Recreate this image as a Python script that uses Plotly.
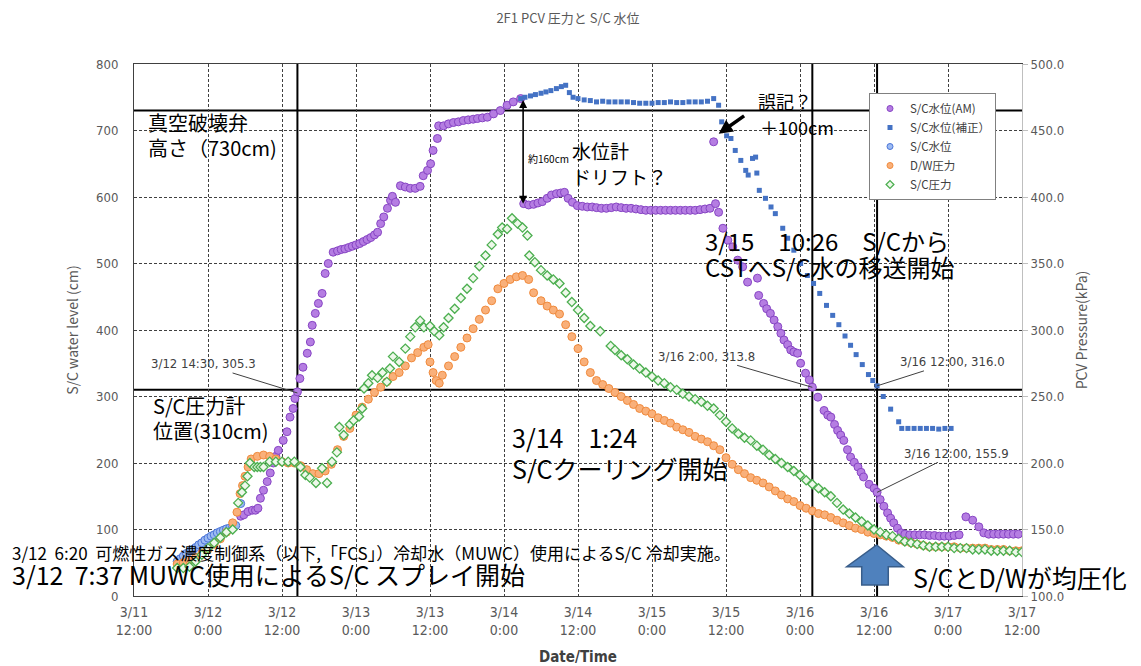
import pandas as pd
import plotly.graph_objects as go
from plotly.subplots import make_subplots

T0 = pd.Timestamp("2011-03-11 12:00")

# times are hours after 3/11 12:00
am_hours = [17.3, 17.8, 18.5, 19.2, 19.7, 20.1, 20.5, 21, 21.6, 22.1,
            22.6, 23, 23.4, 24.2, 24.8, 25.3, 25.8, 26.1, 26.5, 26.9,
            27.4, 28.1, 28.6, 28.9, 29.4, 29.9, 30.5, 31, 31.5, 32.3,
            33, 33.6, 34.2, 34.8, 35.4, 36, 36.6, 37.2, 37.8, 38.4,
            39, 39.5, 40, 40.5, 41.1, 41.6, 41.9, 42.4, 43.2, 44,
            44.8, 45.6, 46.4, 46.9, 47.6, 48.1, 48.5, 49.2, 49.4, 50.2,
            51, 51.8, 52.6, 53.4, 54.2, 55, 55.7, 56.5, 57.3, 58.3,
            59.4, 60.5, 61.5, 62.7, 63.2, 64, 64.8, 65.5, 66.2, 67,
            67.7, 68.5, 69.2, 69.8, 70.4, 71.1, 71.9, 72.7, 73.5, 74.3,
            75, 75.8, 76.6, 77.4, 78.2, 79, 79.8, 80.6, 81.4, 82.2,
            83, 83.8, 84.6, 85.4, 86.2, 87, 87.8, 88.6, 89.4, 90.2,
            91, 91.8, 92.6, 93.4, 94, 94.3, 94.8, 95.5, 96.3, 97.1,
            97.9, 98.7, 99.5, 101.1, 101.3, 102.1, 102.6, 103.2, 103.8, 104.4,
            104.9, 105.4, 106, 106.5, 107, 107.6, 108.1, 108.9, 109.5, 110,
            110.9, 111.9, 112.5, 113, 113.6, 114.1, 114.6, 115.1, 115.7, 116.2,
            116.8, 117.4, 117.9, 118.3, 119.2, 120, 120.5, 121, 121.6, 122.2,
            122.7, 123.2, 123.8, 124.4, 125, 125.8, 126.6, 127.4, 128.2, 129,
            129.8, 130.6, 131.4, 132.2, 133, 133.8, 134.9, 136, 137, 137.8,
            138.6, 139.4, 140.2, 141, 141.8, 142.6, 143.4]
am_level = [120, 122, 127, 129, 129, 132, 147, 159, 172, 185,
            200, 210, 219, 234, 247, 269, 282, 297, 307, 327,
            344, 365, 382, 407, 425, 440, 455, 485, 500, 517,
            519, 521, 522, 524, 526, 528, 530, 533, 536, 539,
            543, 547, 560, 570, 583, 595, 601, 592, 617, 615,
            613, 613, 616, 632, 640, 650, 670, 688, 707, 707,
            710, 712, 713, 715, 716, 717, 718, 719, 720, 725,
            730, 738, 743, 748, 590, 588, 589, 591, 593, 598,
            603, 605, 606, 607, 598, 592, 587, 586, 585, 585,
            584, 583, 583, 584, 585, 584, 583, 583, 582, 581,
            580, 580, 580, 580, 580, 580, 580, 580, 580, 580,
            580, 581, 582, 583, 683, 590, 577, 553, 535, 525,
            505, 495, 472, 478, 452, 440, 432, 425, 415, 405,
            395, 385, 378, 370, 367, 365, 350, 335, 325, 314,
            299, 279, 272, 269, 258, 249, 242, 234, 220, 209,
            201, 194, 186, 179, 168, 162, 156, 145, 135, 125,
            117, 110, 102, 95, 93, 92, 92, 92, 92, 91,
            91, 90, 90, 90, 91, 92, 119, 114, 104, 95,
            93, 93, 93, 93, 93, 93, 93]

fix_hours = [62.7, 63.4, 64.3, 65.1, 66, 66.8, 67.6, 68.5, 69.3, 70,
             70.6, 71.2, 72, 73, 74, 75, 76, 77, 78, 79,
             80, 81, 82, 83, 84, 85, 86, 87, 88, 89,
             90, 91, 92, 93, 94, 94.8, 95.3, 96.1, 96.8, 97.5,
             98.4, 99.2, 99.6, 100.3, 100.8, 101, 101.4, 102.4, 103.3, 104,
             105.2, 106, 107, 108.1, 109.2, 110.2, 111.2, 112.3, 113.3, 114.3,
             115.3, 116.2, 117.1, 118.1, 119.1, 119.8, 120.5, 121.5, 122.7, 124,
             124.5, 125.5, 126.5, 127.5, 128.5, 129.5, 130.5, 131.5, 132.5]
fix_level = [748, 750, 752, 754, 756, 758, 760, 763, 766, 768,
             757, 750, 748, 746, 745, 743, 744, 743, 743, 743,
             743, 742, 741, 741, 741, 742, 742, 743, 742, 742,
             743, 743, 743, 744, 748, 738, 713, 692, 688, 670,
             655, 640, 633, 658, 660, 636, 610, 598, 585, 575,
             553, 538, 520, 500, 482, 470, 455, 437, 422, 408,
             391, 377, 363, 348, 333, 324, 316, 300, 281, 262,
             252, 252, 252, 252, 252, 252, 251, 252, 252]

sc_hours = [7, 7.5, 8, 8.5, 9, 9.5, 10, 10.5, 11, 11.5,
            12, 12.5, 13, 13.5, 14, 14.5, 15, 15.5, 16, 16.5, 17.3]
sc_level = [52, 56, 60, 64, 67, 70, 73, 77, 80, 84,
            87, 90, 92, 95, 97, 99, 101, 102, 104, 106, 139]

dw_hours = [7, 8, 9, 10, 11, 12, 13, 14, 15, 16,
            16.7, 17.2, 17.6, 18, 18.5,
            19, 20, 21, 22, 23, 24, 25, 26, 27, 28,
            29, 30, 31, 32, 33, 34, 35, 36, 37, 38,
            39, 40, 41, 42, 43, 44, 45, 46, 47,
            47.7, 48, 48.5, 49, 49.5,
            50, 51, 52, 53, 54, 55, 56, 57, 58, 59,
            60, 61, 62, 63, 64, 64.8,
            66, 67, 68, 69, 70, 71, 72, 73, 74, 75,
            76, 77, 78, 79, 80, 81, 82, 83, 84, 85,
            86, 87, 88, 89, 90, 91, 92, 93, 94, 95,
            96, 97, 98, 99, 100, 101, 102, 103, 104, 105,
            106, 107, 108, 109, 110, 111, 112, 113, 114, 115,
            116, 117, 118, 119, 120, 121, 122, 123, 124, 125,
            126, 127, 128, 129, 130, 131, 132, 133, 134, 135,
            136, 137, 138, 139, 140, 141, 142, 143, 144]
dw_kpa = [124, 125, 127, 129, 132, 135, 139, 143, 148, 155,
          163, 177, 183, 190, 197,
          203, 205, 206, 205, 203, 201, 200, 200, 198, 195,
          192, 192, 194, 199, 210, 220, 226, 236, 242, 248,
          253, 257, 261, 265, 268, 273, 279, 283, 287,
          289, 276, 268, 262, 260,
          266, 273, 280, 287, 294, 301, 308, 315, 322, 331,
          335, 338, 340, 341, 338, 328,
          322, 318, 315, 312, 304, 295, 286, 276, 268, 262,
          259, 256, 253, 250, 247, 244, 241, 239, 237, 234,
          232, 230, 227, 225, 223, 220, 218, 216, 213, 210,
          204, 199, 195, 192, 189, 187, 185, 182, 179, 176,
          173, 171, 168, 166, 164, 162, 161, 159, 157, 155,
          153, 151, 150, 148, 147, 146, 145, 144, 142, 141,
          140, 139, 138, 137, 137, 137, 137, 137, 136, 136,
          136, 136, 136, 135, 135, 135, 134, 134, 134]

scp_hours = [7, 8, 9, 10, 11, 12, 13, 14, 15, 16,
             16.9, 17.5, 18, 18.4, 18.8, 19.5, 20, 20.5, 21, 22,
             23, 24, 25, 26, 27, 27.8, 28.5, 29.5, 30.5, 31.3,
             32.1, 32.9, 33.3, 34, 35, 35.6, 36.5, 37, 37.3, 38,
             38.6, 39.5, 40.3, 41, 41.5, 42, 43, 44, 44.8, 45.6,
             46.4, 47, 48, 48.7, 49.5, 50.2, 51, 52, 53, 54,
             55, 56, 57, 58, 59, 59.7, 60.5, 61.3, 62.2, 63,
             63.8, 64.1, 65, 66, 67, 68, 69, 70, 71, 72,
             73, 74, 75.6, 77.3, 78, 79, 80, 81, 82, 83,
             84, 85, 86, 87, 88, 89, 90, 91, 92, 93,
             94, 95, 96, 97, 98, 99, 100, 101, 102, 103,
             104, 105, 106, 107, 108, 109, 110, 111, 112, 113,
             114, 115, 116, 117, 118, 119, 120, 121, 122, 123,
             124, 125, 126, 127, 128, 129, 130, 131, 132, 133,
             134, 135, 136, 137, 138, 139, 140, 141, 142, 143,
             144]
scp_kpa = [121, 121, 122, 126, 131, 136, 140, 144, 148, 150,
           170, 178, 183, 190, 200, 197, 197, 197, 197, 201,
           201, 201, 201, 201, 197, 191, 189, 185, 196, 185,
           201, 208, 227, 221, 229, 232, 235, 241, 256, 260,
           266, 264, 268, 261, 271, 280, 276, 286, 295, 302,
           307, 302, 303, 299, 296, 302, 309, 316, 324, 331,
           339, 348, 356, 364, 372, 377, 376, 384, 380, 377,
           371, 356, 351, 345, 341, 338, 335, 328, 321, 315,
           309, 303, 299, 288, 285, 281, 278, 274, 271, 268,
           265, 262, 260, 257, 255, 252, 250, 248, 246, 243,
           241, 236, 231, 226, 222, 219, 217, 213, 210, 206,
           203, 200, 197, 194, 191, 187, 184, 181, 178, 175,
           170, 165, 162, 159, 156, 153, 150, 148, 146, 145,
           143, 141, 140, 139, 138, 137, 137, 137, 137, 136,
           136, 136, 135, 135, 135, 134, 134, 134, 134, 133,
           133]

ref_levels = [730, 310]
ref_hours = [26.5, 110, 120.5]

tick_hours = [0, 12, 24, 36, 48, 60, 72, 84, 96, 108, 120, 132, 144]
tick_text = ["3/11<br>12:00", "3/12<br>0:00", "3/12<br>12:00", "3/13<br>0:00",
             "3/13<br>12:00", "3/14<br>0:00", "3/14<br>12:00", "3/15<br>0:00",
             "3/15<br>12:00", "3/16<br>0:00", "3/16<br>12:00", "3/17<br>0:00",
             "3/17<br>12:00"]

for a, b in [(am_hours, am_level), (fix_hours, fix_level), (sc_hours, sc_level),
             (dw_hours, dw_kpa), (scp_hours, scp_kpa)]:
    assert len(a) == len(b), (len(a), len(b))


def to_time(hours):
    return [T0 + pd.Timedelta(hours=h) for h in hours]


JP = "Noto Sans CJK JP"
NARROW = "Liberation Sans Narrow, DejaVu Sans Condensed, Noto Sans CJK JP"
GRAY = "#595959"
OFF = 8                      # page body margin of the html file
FW, FH = 1141 - OFF, 666 - OFF
L, R, T, B = 134, 1022, 64, 596   # plot box in screen pixels
W, H = R - L, B - T

fig = make_subplots(specs=[[{"secondary_y": True}]])

styles = [
    ("S/C水位(AM)", dict(symbol="circle", color="#b57de2", line=dict(color="#8745c4", width=1))),
    ("S/C水位(補正）", dict(symbol="square", color="#4472c4")),
    ("S/C水位", dict(symbol="circle", color="#9dbbf2", line=dict(color="#4a74d8", width=1))),
    ("D/W圧力", dict(symbol="circle", color="#f9b07a", line=dict(color="#f08a3c", width=1))),
    ("S/C圧力", dict(symbol="diamond", color="#eef8ea", line=dict(color="#4caf50", width=1.3))),
]
series = [(am_hours, am_level, 8, False), (fix_hours, fix_level, 5, False),
          (sc_hours, sc_level, 8, False), (dw_hours, dw_kpa, 8, True),
          (scp_hours, scp_kpa, 7, True)]

for (name, mk), (hrs, vals, size, sec) in zip(styles, series):
    fig.add_trace(go.Scatter(x=to_time(hrs), y=vals, mode="markers", name=name,
                             showlegend=False, marker=dict(size=size, **mk)), secondary_y=sec)
# small legend symbols
for (name, mk), (hrs, vals, size, sec) in zip(styles, series):
    fig.add_trace(go.Scatter(x=[None], y=[None], mode="markers", name=name,
                             marker=dict(size=6 if size > 5 else 5, **mk)), secondary_y=False)

# reference lines
for lv in ref_levels:
    fig.add_shape(type="line", xref="paper", x0=0, x1=1, yref="y", y0=lv, y1=lv,
                  line=dict(color="black", width=2), layer="below")
for hr in ref_hours:
    t = T0 + pd.Timedelta(hours=hr)
    fig.add_shape(type="line", xref="x", x0=t, x1=t, yref="paper", y0=0, y1=1,
                  line=dict(color="black", width=2), layer="below")


def px(xp, yp):
    return (xp - L) / W, (B - yp) / H


def note(text, xp, yp, size, family=JP, color="black"):
    x, y = px(xp, yp)
    fig.add_annotation(text=text, xref="paper", yref="paper", x=x, y=y,
                       xanchor="left", yanchor="middle", showarrow=False,
                       font=dict(family=family, size=size, color=color))


note("真空破壊弁", 146, 123, 20)
note("高さ（730cm)", 146, 147, 20)
note("S/C圧力計", 151, 406, 20)
note("位置(310cm)", 151, 430, 20)
note("約160cm", 526, 158, 10)
note("水位計", 570, 150, 19)
note("ドリフト？", 570, 176, 19)
note("誤記？", 756, 101, 18)
note("＋100cm", 758, 127, 18)
note("3/15　10:26　S/Cから", 703, 240, 24)
note("CSTへS/C水の移送開始", 703, 266, 24)
note("3/14　1:24", 510, 437, 25)
note("S/Cクーリング開始", 510, 468, 25)
note("3/12  6:20  可燃性ガス濃度制御系（以下,「FCS」）冷却水（MUWC）使用によるS/C 冷却実施。", 10, 552, 17)
note("3/12  7:37 MUWC使用によるS/C スプレイ開始", 10, 574, 25)
note("S/CとD/Wが均圧化", 911, 577, 25)

# labelled points
point_labels = [
    (26.5, 305.3, "3/12 14:30, 305.3", -94, -29),
    (110, 313.8, "3/16 2:00, 313.8", -106, -31),
    (120.5, 316.0, "3/16 12:00, 316.0", 75, -24),
    (120.5, 155.9, "3/16 12:00, 155.9", 79, -39),
]
for hr, val, txt, ax, ay in point_labels:
    fig.add_annotation(x=T0 + pd.Timedelta(hours=hr), y=val, xref="x", yref="y", text=txt,
                       showarrow=True, arrowhead=0, arrowwidth=1, arrowcolor="#404040",
                       ax=ax, ay=ay, font=dict(family=NARROW, size=13, color="#404040"))

# drift double arrow
fig.add_annotation(x=T0 + pd.Timedelta(hours=63.1), y=590, xref="x", yref="y",
                   ax=T0 + pd.Timedelta(hours=63.1), ay=748, axref="x", ayref="y",
                   text="", showarrow=True, arrowhead=2, arrowsize=1, arrowwidth=1.6,
                   arrowside="end+start", arrowcolor="black")
# mis-record arrow
fig.add_annotation(x=T0 + pd.Timedelta(hours=94.8), y=695, xref="x", yref="y",
                   ax=27, ay=-19, text="", showarrow=True, arrowhead=2, arrowsize=0.8,
                   arrowwidth=3.5, arrowcolor="black")

# block arrow
pts = [(876.7, 545), (903.3, 566.7), (888.3, 566.7), (888.3, 585), (861.7, 585),
       (861.7, 566.7), (846.7, 566.7)]
path = "M " + " L ".join("%.4f,%.4f" % px(a, b) for a, b in pts) + " Z"
fig.add_shape(type="path", xref="paper", yref="paper", path=path,
              fillcolor="#4f81bd", line=dict(color="#385d8a", width=1.5), layer="above")

grid = dict(showgrid=True, gridcolor="#404040", gridwidth=1, griddash="3px,2px", zeroline=False)

fig.update_xaxes(type="date", range=[T0, T0 + pd.Timedelta(hours=144)], automargin=False,
                 domain=[0, 1], ticklabelstandoff=3,
                 tickmode="array", tickvals=to_time(tick_hours), ticktext=tick_text,
                 tickfont=dict(family=NARROW, size=14, color=GRAY),
                 showline=True, linecolor="#404040", linewidth=1, mirror=True,
                 title=dict(text="<b>Date/Time</b>", font=dict(family=NARROW, size=15, color="#404040"),
                            standoff=14),
                 **grid)
fig.update_yaxes(range=[0, 800], dtick=100, tickfont=dict(family=NARROW, size=13, color=GRAY),
                 showline=True, linecolor="#404040", linewidth=1, ticklabelstandoff=12,
                 automargin=False,
                 title=dict(text="S/C water level (cm)", font=dict(family=JP, size=14, color=GRAY),
                            standoff=14),
                 secondary_y=False, **grid)
fig.update_yaxes(range=[100, 500], dtick=50, tickformat=".1f", showgrid=False, zeroline=False,
                 tickfont=dict(family=NARROW, size=13, color=GRAY), automargin=False,
                 showline=True, linecolor="#bfbfbf", linewidth=1, ticks="outside", ticklen=5,
                 tickcolor="#bfbfbf",
                 title=dict(text="PCV Pressure(kPa)", font=dict(family=JP, size=14, color=GRAY),
                            standoff=14),
                 secondary_y=True)

lx, ly = px(869, 93)
fig.update_layout(
    width=FW, height=FH,
    margin=dict(l=L - OFF, r=1141 - R, t=T - OFF, b=666 - B, autoexpand=False),
    paper_bgcolor="white", plot_bgcolor="white",
    title=dict(text="2F1 PCV 圧力と S/C 水位", x=(568 - OFF) / FW, xanchor="center",
               y=1 - (18 - OFF) / FH, yanchor="middle",
               font=dict(family=JP, size=13, color=GRAY)),
    legend=dict(x=lx, y=ly, xanchor="left", yanchor="top", bgcolor="white",
                bordercolor="#808080", borderwidth=1, itemwidth=30, tracegroupgap=0,
                font=dict(family=JP, size=11.5, color="#404040")),
    showlegend=True,
)

fig.write_html("out.html")
